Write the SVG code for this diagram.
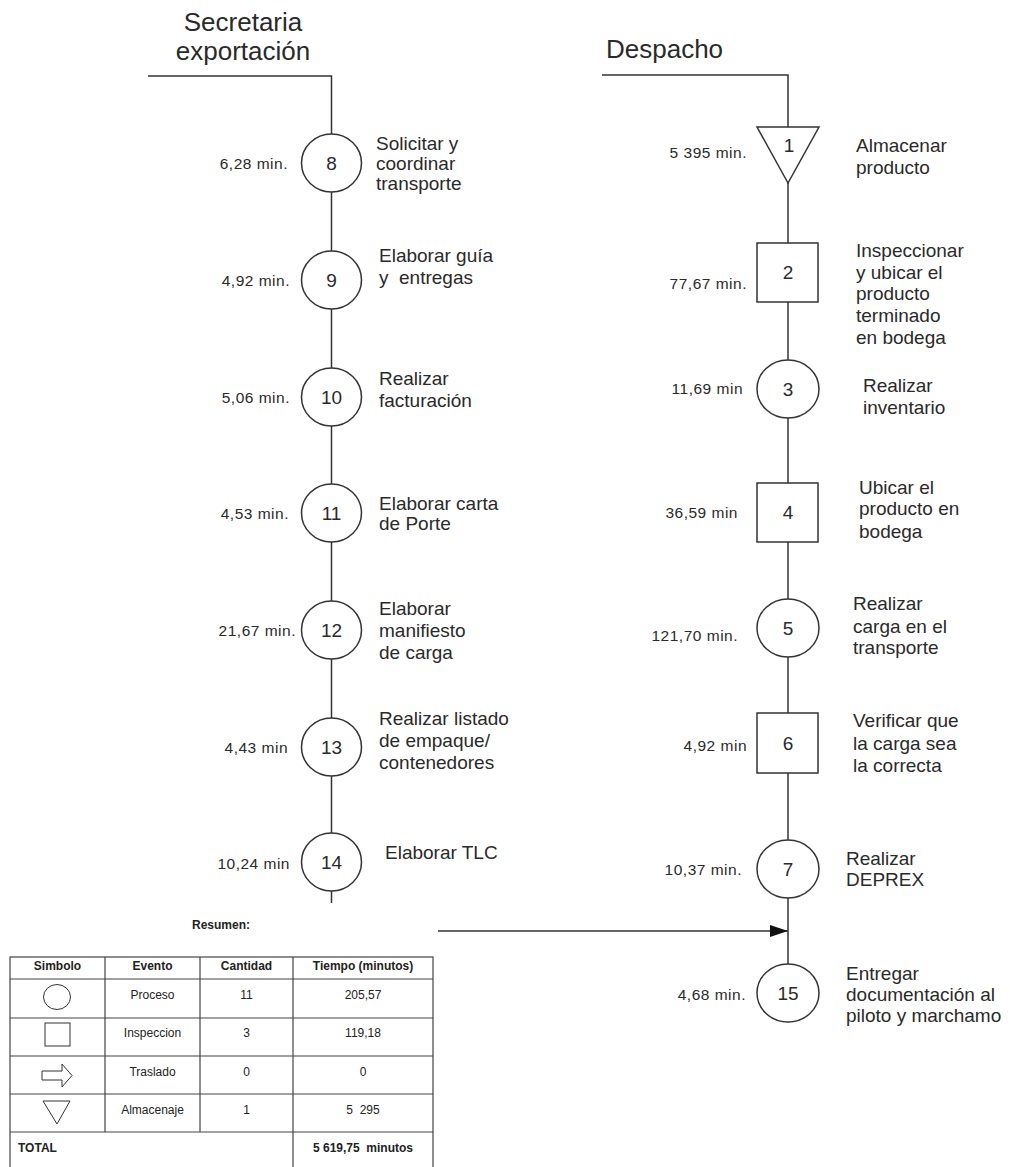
<svg xmlns="http://www.w3.org/2000/svg" width="1010" height="1167" viewBox="0 0 1010 1167">
<defs>
<style>
.ln{fill:none;stroke:#333;stroke-width:1.5}
.sh{fill:#fff;stroke:#333;stroke-width:1.5}
.tl{font-family:"Liberation Sans",Arial,sans-serif;font-size:26px;fill:#2a2a2a}
.num{font-family:"Liberation Sans",Arial,sans-serif;font-size:19px;fill:#2a2a2a;text-anchor:middle}
.tm{font-family:"Liberation Sans",Arial,sans-serif;font-size:15.5px;letter-spacing:0.5px;fill:#2a2a2a;text-anchor:end}
.ds{font-family:"Liberation Sans",Arial,sans-serif;font-size:19px;fill:#2a2a2a;white-space:pre}
.tb{fill:none;stroke:#444;stroke-width:1.2}
.tt{font-family:"Liberation Sans",Arial,sans-serif;font-size:12px;fill:#222;text-anchor:middle;white-space:pre}
.tbd{font-family:"Liberation Sans",Arial,sans-serif;font-size:12px;font-weight:bold;fill:#222;white-space:pre}
.sym{fill:#fff;stroke:#333;stroke-width:1}
</style>
<marker id="ah" viewBox="0 0 18 12" refX="18" refY="6" markerWidth="18" markerHeight="12" markerUnits="userSpaceOnUse" orient="auto">
<path d="M0,0 L18,6 L0,12 Z" fill="#111"/>
</marker>
</defs>

<rect width="1010" height="1167" fill="#fff"/>

<text class="tl" x="243" y="31" text-anchor="middle">Secretaria</text>
<text class="tl" x="243" y="60" text-anchor="middle">exportación</text>
<text class="tl" x="606" y="58">Despacho</text>

<g id="connectors">
<path class="ln" d="M148 76 H331.5 V134"/>
<line class="ln" x1="331.5" y1="192" x2="331.5" y2="251"/>
<line class="ln" x1="331.5" y1="309" x2="331.5" y2="368"/>
<line class="ln" x1="331.5" y1="426" x2="331.5" y2="484"/>
<line class="ln" x1="331.5" y1="542" x2="331.5" y2="601"/>
<line class="ln" x1="331.5" y1="659" x2="331.5" y2="718"/>
<line class="ln" x1="331.5" y1="776" x2="331.5" y2="833"/>
<line class="ln" x1="331.5" y1="891" x2="331.5" y2="903"/>
<path class="ln" d="M602 75 H788 V127"/>
<line class="ln" x1="788" y1="183" x2="788" y2="243"/>
<line class="ln" x1="788" y1="302" x2="788" y2="360"/>
<line class="ln" x1="788" y1="418" x2="788" y2="483"/>
<line class="ln" x1="788" y1="542" x2="788" y2="599"/>
<line class="ln" x1="788" y1="657" x2="788" y2="713"/>
<line class="ln" x1="788" y1="773" x2="788" y2="840"/>
<line class="ln" x1="788" y1="898" x2="788" y2="964"/>
<line class="ln" x1="438" y1="931" x2="788" y2="931" marker-end="url(#ah)"/>
</g>

<g id="n8"><ellipse class="sh" cx="331.5" cy="163" rx="30" ry="29"/><text class="num" x="331.5" y="169.5">8</text>
<text class="tm" x="288" y="168.5">6,28 min.</text>
<text class="ds" x="376"><tspan x="376" y="150">Solicitar y</tspan><tspan x="376" y="170">coordinar</tspan><tspan x="376" y="190">transporte</tspan></text></g>

<g id="n9"><ellipse class="sh" cx="331.5" cy="280" rx="30" ry="29"/><text class="num" x="331.5" y="286.5">9</text>
<text class="tm" x="290" y="285.5">4,92 min.</text>
<text class="ds" x="379"><tspan x="379" y="262">Elaborar guía</tspan><tspan x="379" y="284">y  entregas</tspan></text></g>

<g id="n10"><ellipse class="sh" cx="331.5" cy="397" rx="30" ry="29"/><text class="num" x="331.5" y="403.5">10</text>
<text class="tm" x="290" y="402.5">5,06 min.</text>
<text class="ds" x="379"><tspan x="379" y="385">Realizar</tspan><tspan x="379" y="407">facturación</tspan></text></g>

<g id="n11"><ellipse class="sh" cx="331.5" cy="513" rx="30" ry="29"/><text class="num" x="331.5" y="519.5">11</text>
<text class="tm" x="289" y="518.5">4,53 min.</text>
<text class="ds" x="379"><tspan x="379" y="510">Elaborar carta</tspan><tspan x="379" y="530">de Porte</tspan></text></g>

<g id="n12"><ellipse class="sh" cx="331.5" cy="630" rx="30" ry="29"/><text class="num" x="331.5" y="636.5">12</text>
<text class="tm" x="296" y="635.5">21,67 min.</text>
<text class="ds" x="379"><tspan x="379" y="615">Elaborar</tspan><tspan x="379" y="637">manifiesto</tspan><tspan x="379" y="659">de carga</tspan></text></g>

<g id="n13"><ellipse class="sh" cx="331.5" cy="747" rx="30" ry="29"/><text class="num" x="331.5" y="753.5">13</text>
<text class="tm" x="288" y="752.5">4,43 min</text>
<text class="ds" x="379"><tspan x="379" y="725">Realizar listado</tspan><tspan x="379" y="747">de empaque/</tspan><tspan x="379" y="769">contenedores</tspan></text></g>

<g id="n14"><ellipse class="sh" cx="331.5" cy="862" rx="30" ry="29"/><text class="num" x="331.5" y="868.5">14</text>
<text class="tm" x="290" y="868.5">10,24 min</text>
<text class="ds" x="385" y="859">Elaborar TLC</text></g>

<g id="n1"><polygon class="sh" points="757,127 819,127 788,183"/><text class="num" x="789" y="152">1</text>
<text class="tm" x="747" y="157.5">5 395 min.</text>
<text class="ds" x="856"><tspan x="856" y="152">Almacenar</tspan><tspan x="856" y="174">producto</tspan></text></g>

<g id="n2"><rect class="sh" x="757" y="243" width="61" height="59"/><text class="num" x="788" y="279">2</text>
<text class="tm" x="747" y="288.5">77,67 min.</text>
<text class="ds" x="856"><tspan x="856" y="257">Inspeccionar</tspan><tspan x="856" y="279">y ubicar el</tspan><tspan x="856" y="300">producto</tspan><tspan x="856" y="322">terminado</tspan><tspan x="856" y="344">en bodega</tspan></text></g>

<g id="n3"><ellipse class="sh" cx="788" cy="389" rx="31" ry="29"/><text class="num" x="788" y="395.5">3</text>
<text class="tm" x="743" y="393.5">11,69 min</text>
<text class="ds" x="863"><tspan x="863" y="392">Realizar</tspan><tspan x="863" y="414">inventario</tspan></text></g>

<g id="n4"><rect class="sh" x="757" y="483" width="61" height="59"/><text class="num" x="788" y="519">4</text>
<text class="tm" x="738" y="517.5">36,59 min</text>
<text class="ds" x="859"><tspan x="859" y="494">Ubicar el</tspan><tspan x="859" y="515">producto en</tspan><tspan x="859" y="538">bodega</tspan></text></g>

<g id="n5"><ellipse class="sh" cx="788" cy="628" rx="31" ry="29"/><text class="num" x="788" y="634.5">5</text>
<text class="tm" x="738" y="640.5">121,70 min.</text>
<text class="ds" x="853"><tspan x="853" y="610">Realizar</tspan><tspan x="853" y="633">carga en el</tspan><tspan x="853" y="654">transporte</tspan></text></g>

<g id="n6"><rect class="sh" x="757" y="713" width="61" height="60"/><text class="num" x="788" y="749.5">6</text>
<text class="tm" x="747" y="750.5">4,92 min</text>
<text class="ds" x="853"><tspan x="853" y="727">Verificar que</tspan><tspan x="853" y="750">la carga sea</tspan><tspan x="853" y="772">la correcta</tspan></text></g>

<g id="n7"><ellipse class="sh" cx="788" cy="869" rx="31" ry="29"/><text class="num" x="788" y="875.5">7</text>
<text class="tm" x="742" y="874.5">10,37 min.</text>
<text class="ds" x="846"><tspan x="846" y="865">Realizar</tspan><tspan x="846" y="886">DEPREX</tspan></text></g>

<g id="n15"><ellipse class="sh" cx="788" cy="993" rx="31" ry="29"/><text class="num" x="788" y="999.5">15</text>
<text class="tm" x="746" y="1000">4,68 min.</text>
<text class="ds" x="846"><tspan x="846" y="980">Entregar</tspan><tspan x="846" y="1001">documentación al</tspan><tspan x="846" y="1022">piloto y marchamo</tspan></text></g>

<g id="resumen">
<text class="tbd" x="192" y="929" font-size="12.5">Resumen:</text>
<rect class="tb" x="10" y="957" width="423" height="220"/>
<line class="tb" x1="10" y1="979" x2="433" y2="979"/>
<line class="tb" x1="10" y1="1018" x2="433" y2="1018"/>
<line class="tb" x1="10" y1="1056" x2="433" y2="1056"/>
<line class="tb" x1="10" y1="1094" x2="433" y2="1094"/>
<line class="tb" x1="10" y1="1132" x2="433" y2="1132"/>
<line class="tb" x1="105" y1="957" x2="105" y2="1132"/>
<line class="tb" x1="200" y1="957" x2="200" y2="1132"/>
<line class="tb" x1="293" y1="957" x2="293" y2="1167"/>
<text class="tbd" x="57.5" y="970" text-anchor="middle">Simbolo</text>
<text class="tbd" x="152.5" y="970" text-anchor="middle">Evento</text>
<text class="tbd" x="246.5" y="970" text-anchor="middle">Cantidad</text>
<text class="tbd" x="363" y="970" text-anchor="middle">Tiempo (minutos)</text>
<ellipse class="sym" cx="57" cy="997" rx="13.5" ry="12.5"/>
<rect class="sym" x="45" y="1023" width="25" height="23"/>
<polygon class="sym" points="42,1071 62,1071 62,1064 72,1075.5 62,1087 62,1080 42,1080"/>
<polygon class="sym" points="43,1101 70,1101 57,1124"/>
<text class="tt" x="152.5" y="999">Proceso</text>
<text class="tt" x="246.5" y="999">11</text>
<text class="tt" x="363" y="999">205,57</text>
<text class="tt" x="152.5" y="1037">Inspeccion</text>
<text class="tt" x="246.5" y="1037">3</text>
<text class="tt" x="363" y="1037">119,18</text>
<text class="tt" x="152.5" y="1076">Traslado</text>
<text class="tt" x="246.5" y="1076">0</text>
<text class="tt" x="363" y="1076">0</text>
<text class="tt" x="152.5" y="1114">Almacenaje</text>
<text class="tt" x="246.5" y="1114">1</text>
<text class="tt" x="363" y="1114">5  295</text>
<text class="tbd" x="18" y="1152">TOTAL</text>
<text class="tbd" x="363" y="1152" text-anchor="middle">5 619,75  minutos</text>
</g>
</svg>
